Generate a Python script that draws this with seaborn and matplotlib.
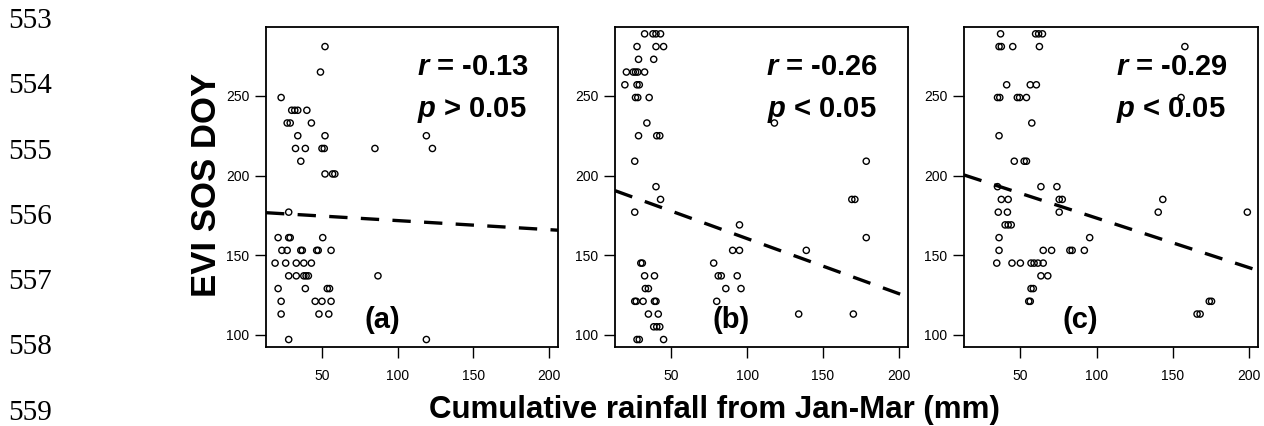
import numpy as np
import pandas as pd
import matplotlib
matplotlib.use("Agg")
import matplotlib.pyplot as plt
import seaborn as sns

# ---------------- data ----------------
# Panel (a): cumulative rainfall (mm) vs EVI SOS DOY
a_rain = [52,
          49,
          23,
          30, 32, 34, 40,
          27, 29, 43,
          34, 52, 119,
          32.5, 39, 50, 51.5, 85, 123,
          36,
          52, 57, 58.5,
          28,
          21, 28, 29, 50.5,
          23.5, 27, 36, 37, 46.5, 47.5, 56,
          19, 26, 33, 38, 43,
          28, 33, 38, 39.5, 41, 87,
          21, 39, 53.5, 55,
          23, 45.5, 50, 56,
          23, 48, 54.5,
          28, 119]
a_doy = [281,
         265,
         249,
         241, 241, 241, 241,
         233, 233, 233,
         225, 225, 225,
         217, 217, 217, 217, 217, 217,
         209,
         201, 201, 201,
         177,
         161, 161, 161, 161,
         153, 153, 153, 153, 153, 153, 153,
         145, 145, 145, 145, 145,
         137, 137, 137, 137, 137, 137,
         129, 129, 129, 129,
         121, 121, 121, 121,
         113, 113, 113,
         97, 97]

# Panel (b)
b_rain = [32.5, 38, 40, 43,
          27.5, 40, 45,
          28.5, 38.5,
          20.5, 25, 26.5, 28, 32.5,
          19.5, 27.5, 29,
          26.5, 28, 35.5,
          34, 118,
          28.5, 40.5, 42.5,
          26, 178.5,
          40,
          43, 169, 171,
          26,
          95,
          178.5,
          90.5, 95, 139,
          30, 31, 78,
          32.5, 39, 81, 83, 93.5,
          33, 35, 86, 96,
          26, 27, 31.5, 39, 40, 80,
          35, 41.5, 134, 170,
          38.5, 40.5, 42.5,
          27.5, 29, 45]
b_doy = [289, 289, 289, 289,
         281, 281, 281,
         273, 273,
         265, 265, 265, 265, 265,
         257, 257, 257,
         249, 249, 249,
         233, 233,
         225, 225, 225,
         209, 209,
         193,
         185, 185, 185,
         177,
         169,
         161,
         153, 153, 153,
         145, 145, 145,
         137, 137, 137, 137, 137,
         129, 129, 129, 129,
         121, 121, 121, 121, 121, 121,
         113, 113, 113, 113,
         105, 105, 105,
         97, 97, 97]

# Panel (c)
c_rain = [37, 60, 62, 64.5,
          36, 37.5, 45, 62.5, 158,
          41, 56.5, 60.5,
          35, 36.5, 48, 49.5, 54, 155.5,
          57.5,
          36,
          46, 52.5, 54,
          35, 63.5, 74,
          37.5, 42, 75.5, 77.5, 143.5,
          35.5, 41.5, 75.5, 140.5, 199,
          40, 42, 44,
          36, 95.5,
          36, 65, 70.5, 82.5, 84, 92,
          34.5, 44.5, 50, 57, 59, 61.5, 65,
          63.5, 68,
          57, 58.5,
          55.5, 56.5, 174, 175.5,
          166, 168]
c_doy = [289, 289, 289, 289,
         281, 281, 281, 281, 281,
         257, 257, 257,
         249, 249, 249, 249, 249, 249,
         233,
         225,
         209, 209, 209,
         193, 193, 193,
         185, 185, 185, 185, 185,
         177, 177, 177, 177, 177,
         169, 169, 169,
         161, 161,
         153, 153, 153, 153, 153, 153,
         145, 145, 145, 145, 145, 145, 145,
         137, 137,
         129, 129,
         121, 121, 121, 121,
         113, 113]

# linear fits (intercept, slope) and statistics
fit_intercept = [177.4, 195.0, 204.4]
fit_slope = [-0.057, -0.346, -0.311]
r_values = ["-0.13", "-0.26", "-0.29"]
p_signs = [">", "<", "<"]
panel_tags = ["(a)", "(b)", "(c)"]
x_ticks = [50, 100, 150, 200]
y_ticks = [100, 150, 200, 250]
line_numbers = ["553", "554", "555", "556", "557", "558", "559"]

# ---------------- style ----------------
sns.set_style("ticks")
plt.rcParams['font.family'] = ['Liberation Sans', 'DejaVu Sans']
plt.rcParams['mathtext.fontset'] = 'custom'
plt.rcParams['mathtext.it'] = 'Liberation Sans:italic:bold'
plt.rcParams['mathtext.rm'] = 'Liberation Sans:bold'
plt.rcParams['mathtext.bf'] = 'Liberation Sans:bold'
plt.rcParams['text.color'] = 'black'
plt.rcParams['axes.labelcolor'] = 'black'
plt.rcParams['xtick.color'] = 'black'
plt.rcParams['ytick.color'] = 'black'
plt.rcParams['xtick.labelcolor'] = 'black'
plt.rcParams['ytick.labelcolor'] = 'black'

W, H = 1264, 426
fig = plt.figure(figsize=(W / 100, H / 100), dpi=100)
fig.patch.set_facecolor('white')

rains = [a_rain, b_rain, c_rain]
doys = [a_doy, b_doy, c_doy]
boxes = [(266, 558), (615, 908), (964, 1258)]
top, bottom = 27, 347
xlim = (13, 206)
ylim = (92.3, 293.3)

for i, (l, r) in enumerate(boxes):
    ax = fig.add_axes([l / W, 1 - bottom / H, (r - l) / W, (bottom - top) / H])
    df = pd.DataFrame({'rain': rains[i], 'doy': doys[i]})
    sns.scatterplot(data=df, x='rain', y='doy', ax=ax, marker='o', s=20,
                    facecolor='none', edgecolor='black', linewidth=1.0,
                    zorder=3)
    xs = np.linspace(xlim[0], xlim[1], 2)
    sns.lineplot(x=xs, y=fit_intercept[i] + fit_slope[i] * xs, ax=ax,
                 color='black', lw=2.4, linestyle=(0, (5.5, 4)), zorder=2)
    ax.set_xlim(*xlim)
    ax.set_ylim(*ylim)
    ax.set_xticks(x_ticks)
    ax.set_yticks(y_ticks)
    ax.set_xlabel('')
    ax.set_ylabel('')
    ax.tick_params(axis='both', length=8, width=1.0, labelsize=10,
                   color='black', labelcolor='black')
    ax.tick_params(axis='x', pad=8)
    ax.tick_params(axis='y', pad=4)
    for s in ax.spines.values():
        s.set_visible(True)
        s.set_linewidth(1.3)
        s.set_color('black')
    ax.text(0.516, 0.876, rf'$r$ = {r_values[i]}', transform=ax.transAxes,
            ha='left', va='center', fontsize=21, fontweight='bold',
            color='black')
    ax.text(0.518, 0.741, rf'$p$ {p_signs[i]} 0.05', transform=ax.transAxes,
            ha='left', va='center', fontsize=21, fontweight='bold',
            color='black')
    ax.text(0.397, 0.084, panel_tags[i], transform=ax.transAxes,
            ha='center', va='center', fontsize=21, fontweight='bold',
            color='black')

fig.text(206 / W, 1 - 184.5 / H, 'EVI SOS DOY', rotation=90, ha='center',
         va='center', fontsize=25, fontweight='bold', color='black')
fig.text(714 / W, 1 - 410 / H, 'Cumulative rainfall from Jan-Mar (mm)',
         ha='center', va='center', fontsize=22.5, fontweight='bold',
         color='black')

for k, lab in enumerate(line_numbers):
    fig.text(8 / W, 1 - (21 + 65.25 * k) / H, lab, ha='left', va='center',
             fontsize=21, family=['Liberation Serif', 'DejaVu Serif'],
             color='black')

fig.savefig('out.png', dpi=100, facecolor='white')
